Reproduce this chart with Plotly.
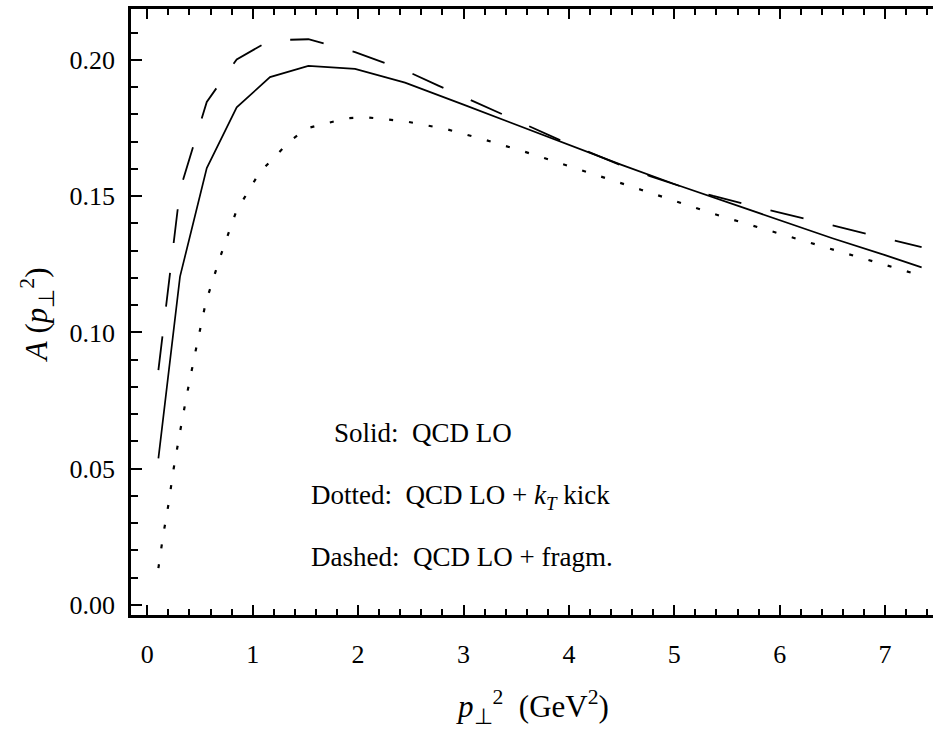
import plotly.graph_objects as go

# ---- data ----
solid_x = [0.105, 0.31, 0.564, 0.848, 1.164, 1.528, 1.971, 2.445, 3.0, 3.5, 4.0, 4.5,
           5.0, 5.5, 6.0, 6.5, 7.0, 7.347]
solid_y = [0.0538, 0.1205, 0.1603, 0.1826, 0.1937, 0.1978, 0.1967, 0.1917, 0.1836, 0.1762,
           0.1689, 0.1615, 0.1545, 0.1478, 0.1412, 0.1346, 0.1284, 0.1239]

dashed_x = [0.105, 0.31, 0.564, 0.848, 1.164, 1.528, 1.971, 2.445, 2.761, 3.337, 3.916, 4.485,
            4.77, 5.07, 5.37, 5.671, 5.965, 6.271, 6.566, 6.873, 7.167, 7.347]
dashed_y = [0.0862, 0.1523, 0.1846, 0.2002, 0.2072, 0.2076, 0.2029, 0.1962, 0.1906, 0.1807,
            0.1706, 0.1615, 0.1574, 0.1535, 0.1501, 0.1471, 0.1443, 0.1415, 0.1386, 0.1358,
            0.1330, 0.1313]

dotted_x = [0.105, 0.15, 0.2, 0.25, 0.31, 0.37, 0.46, 0.554, 0.69, 0.842, 1.063, 1.347, 1.512,
            1.695, 1.892, 2.072, 2.271, 2.461, 2.84, 3.213, 3.583, 3.956, 4.32, 4.69, 5.054,
            5.427, 5.797, 6.171, 6.541, 6.914, 7.284, 7.347]
dotted_y = [0.0135, 0.0255, 0.0368, 0.0501, 0.0635, 0.0762, 0.0936, 0.1109, 0.1276, 0.1443,
            0.1586, 0.1700, 0.1749, 0.1768, 0.1786, 0.1790, 0.1782, 0.1774, 0.1746, 0.1706,
            0.1663, 0.1617, 0.1570, 0.1523, 0.1476, 0.1429, 0.1386, 0.1342, 0.1300, 0.1258,
            0.1215, 0.1208]

x_ticks = [0, 1, 2, 3, 4, 5, 6, 7]
y_ticks = [0.00, 0.05, 0.10, 0.15, 0.20]
y_tick_labels = ["0.00", "0.05", "0.10", "0.15", "0.20"]

labels = ["Solid:  QCD LO",
          "Dotted:  QCD LO + <i>k</i><sub><i>T</i></sub> kick",
          "Dashed:  QCD LO + fragm."]

FONT = "Liberation Serif"
X_RANGE = [-0.155, 7.455]
Y_RANGE = [-0.00367, 0.2187]

fig = go.Figure()
fig.add_trace(go.Scatter(x=solid_x, y=solid_y, mode="lines",
                         line=dict(color="black", width=1.7), showlegend=False))
fig.add_trace(go.Scatter(x=dotted_x, y=dotted_y, mode="lines",
                         line=dict(color="black", width=2.2, dash="4px,16px"), showlegend=False))
fig.add_trace(go.Scatter(x=dashed_x, y=dashed_y, mode="lines",
                         line=dict(color="black", width=1.8, dash="34px,30px"), showlegend=False))

axis_common = dict(showgrid=False, zeroline=False, linecolor="black", linewidth=2.5,
                   ticks="inside", tickcolor="black", tickwidth=2,
                   tickfont=dict(family=FONT, size=26, color="black"))

fig.update_layout(
    width=933, height=732,
    margin=dict(l=131, r=0, t=9, b=117),
    paper_bgcolor="white", plot_bgcolor="white",
    font=dict(family=FONT, color="black"),
    xaxis=dict(range=X_RANGE, tickvals=x_ticks, ticklen=10, showline=True, mirror="ticks",
               ticklabelstandoff=14,
               minor=dict(dtick=0.2, tick0=0, ticklen=6, tickwidth=1.5, ticks="inside",
                          tickcolor="black"),
               **axis_common),
    yaxis=dict(range=Y_RANGE, tickvals=y_ticks, ticktext=y_tick_labels, ticklen=11,
               showline=True, mirror=False, ticklabelstandoff=8,
               minor=dict(dtick=0.01, tick0=0, ticklen=7, tickwidth=1.5, ticks="inside",
                          tickcolor="black"),
               **axis_common),
    yaxis2=dict(range=Y_RANGE, overlaying="y", side="right", showline=False,
                showgrid=False, zeroline=False, showticklabels=False,
                tickvals=y_ticks, ticks="inside", ticklen=11, tickwidth=2, tickcolor="black",
                minor=dict(dtick=0.01, tick0=0, ticklen=7, tickwidth=1.5, ticks="inside",
                           tickcolor="black")),
)

# in-plot legend text
label_pos = [(0.2506, 0.300), (0.2219, 0.195), (0.2219, 0.0957)]
for txt, (px, py) in zip(labels, label_pos):
    fig.add_annotation(text=txt, xref="paper", yref="paper", x=px, y=py,
                       xanchor="left", yanchor="middle", showarrow=False,
                       font=dict(family=FONT, size=27, color="black"))

# axis titles
fig.add_annotation(text="<i>p</i><sub>⊥</sub><sup>2</sup>  (GeV<sup>2</sup>)",
                   xref="paper", yref="paper", x=0.501, y=-0.152,
                   xanchor="center", yanchor="middle", showarrow=False,
                   font=dict(family=FONT, size=31, color="black"))
fig.add_annotation(text="<i>A</i> (<i>p</i><sub>⊥</sub><sup>2</sup>)",
                   xref="paper", yref="paper", x=-0.117, y=0.495, textangle=-90,
                   xanchor="center", yanchor="middle", showarrow=False,
                   font=dict(family=FONT, size=31, color="black"))

fig.write_html("out.html")
